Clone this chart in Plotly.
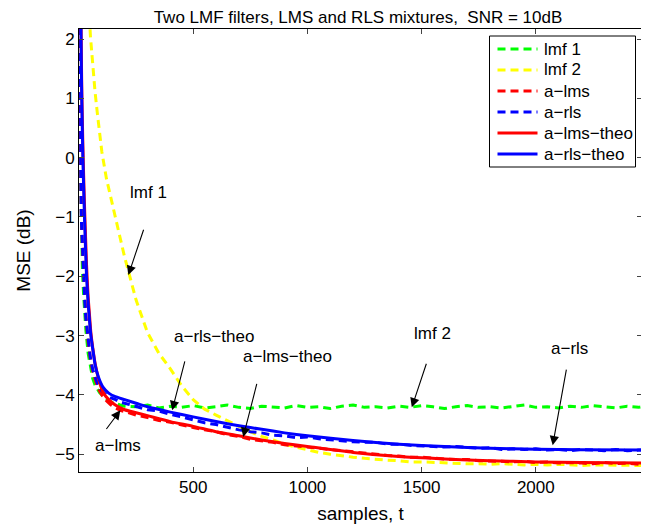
import plotly.graph_objects as go

# ---------------- data ----------------
t_sim = [1, 3, 5, 8, 10, 15, 20, 25, 30, 40, 50, 60, 70, 80, 90, 100, 120, 140, 160, 180] \
    + list(range(200, 2451, 50)) + [2465]

lmf1 = [9, 3.5, 1.2, -0.5, -1.2, -1.9, -2.3, -2.65, -2.9, -3.3, -3.55, -3.72, -3.83, -3.9, -3.96, -4.0,
        -4.07, -4.12, -4.15, -4.17,
        -4.19, -4.2, -4.17, -4.22, -4.19, -4.21, -4.18, -4.22, -4.2, -4.17,
        -4.21, -4.23, -4.19, -4.2, -4.22, -4.18, -4.21, -4.2, -4.23, -4.19,
        -4.17, -4.21, -4.2, -4.22, -4.19, -4.21, -4.18, -4.2, -4.23, -4.2,
        -4.18, -4.21, -4.2, -4.22, -4.19, -4.17, -4.21, -4.2, -4.22, -4.19,
        -4.21, -4.18, -4.2, -4.22, -4.19, -4.21, -4.2]

lmf2 = [14, 12.5, 11.5, 10.3, 9.5, 7.8, 6.4, 5.3, 4.4, 2.8, 2.05, 1.55, 1.12, 0.76, 0.42, 0.1,
        -0.35, -0.7, -1.02, -1.35,
        -1.68, -2.4, -2.95, -3.3, -3.56, -3.85, -4.08, -4.24, -4.34, -4.44,
        -4.53, -4.62, -4.7, -4.76, -4.83, -4.88, -4.93, -4.97, -5.0, -5.03,
        -5.05, -5.07, -5.09, -5.1, -5.11, -5.13, -5.13, -5.14, -5.15, -5.15,
        -5.16, -5.16, -5.17, -5.16, -5.17, -5.18, -5.17, -5.18, -5.17, -5.18,
        -5.19, -5.18, -5.18, -5.19, -5.18, -5.19, -5.19]

a_lms = [9, 4, 1.6, -0.2, -0.9, -1.5, -1.95, -2.35, -2.65, -3.1, -3.4, -3.6, -3.75, -3.85, -3.93, -4.0,
         -4.1, -4.17, -4.22, -4.26,
         -4.28, -4.34, -4.38, -4.43, -4.46, -4.51, -4.55, -4.59, -4.62, -4.67,
         -4.7, -4.75, -4.77, -4.8, -4.84, -4.86, -4.88, -4.91, -4.93, -4.94,
         -4.97, -4.98, -5.0, -5.02, -5.03, -5.05, -5.05, -5.07, -5.08, -5.09,
         -5.09, -5.11, -5.11, -5.12, -5.13, -5.12, -5.14, -5.13, -5.15, -5.14,
         -5.15, -5.16, -5.14, -5.16, -5.15, -5.17, -5.16]

a_rls = [9, 4, 1.5, -0.3, -1.0, -1.6, -2.0, -2.4, -2.7, -3.1, -3.38, -3.57, -3.7, -3.8, -3.87, -3.93,
         -4.0, -4.05, -4.08, -4.12,
         -4.14, -4.2, -4.25, -4.27, -4.33, -4.37, -4.42, -4.47, -4.5, -4.55,
         -4.59, -4.62, -4.64, -4.68, -4.69, -4.72, -4.71, -4.74, -4.76, -4.77,
         -4.79, -4.8, -4.8, -4.83, -4.83, -4.85, -4.86, -4.86, -4.88, -4.87,
         -4.89, -4.9, -4.89, -4.92, -4.91, -4.92, -4.91, -4.93, -4.92, -4.94,
         -4.92, -4.93, -4.94, -4.92, -4.94, -4.93, -4.93]

t_theo = [1, 5, 9, 12, 17, 24, 33, 40, 45, 52, 60, 71, 85, 105, 130, 159, 200, 250, 300, 400,
          500, 600, 700, 800, 900, 1000, 1200, 1400, 1600, 1800, 2000, 2200, 2465]

a_lms_theo = [12, 4.2, 2.2, 1.2, 0.2, -0.8, -1.8, -2.35, -2.6, -2.95, -3.2, -3.48, -3.72, -3.95,
              -4.08, -4.17, -4.25, -4.3, -4.35, -4.45, -4.53, -4.62, -4.69, -4.76, -4.82, -4.87,
              -4.97, -5.04, -5.08, -5.11, -5.13, -5.14, -5.15]

a_rls_theo = [12, 4.0, 2.0, 1.0, 0.0, -1.0, -2.0, -2.45, -2.7, -3.0, -3.22, -3.5, -3.7, -3.87,
              -3.97, -4.03, -4.08, -4.14, -4.2, -4.29, -4.37, -4.45, -4.52, -4.58, -4.64, -4.69,
              -4.77, -4.83, -4.87, -4.9, -4.915, -4.925, -4.93]

series_names = ["lmf 1", "lmf 2", "a\u2212lms", "a\u2212rls", "a\u2212lms\u2212theo", "a\u2212rls\u2212theo"]
series_colors = ["#00ff00", "#ffff00", "#ff0000", "#0000ff", "#ff0000", "#0000ff"]
series_dashed = [True, True, True, True, False, False]

x_ticks = [500, 1000, 1500, 2000]
y_ticks = [-5, -4, -3, -2, -1, 0, 1, 2]

# annotation labels: (text, text_x, text_y, tail_x, tail_y, tip_x, tip_y)
labels = [
    ("lmf 1", 303, -0.58, 285, -1.19, 216, -1.98),
    ("a\u2212rls\u2212theo", 592, -3.01, 465, -3.41, 408, -4.26),
    ("a\u2212lms\u2212theo", 911, -3.36, 780, -3.79, 719, -4.71),
    ("a\u2212lms", 172, -4.85, 115, -4.60, 181, -4.26),
    ("lmf 2", 1549, -2.96, 1523, -3.45, 1457, -4.21),
    ("a\u2212rls", 2148, -3.21, 2135, -3.55, 2074, -4.85),
]

# ---------------- figure ----------------
FONT = "Liberation Sans, Arial, Helvetica, sans-serif"
DASH = "8px,5px"
fig = go.Figure()

sim_series = [lmf1, lmf2, a_lms, a_rls]
for name, col, ys in zip(series_names[:4], series_colors[:4], sim_series):
    fig.add_trace(go.Scatter(x=t_sim, y=ys, mode="lines", name=name, showlegend=False,
                             line=dict(color=col, width=3, dash=DASH)))

for name, col, ys in zip(series_names[4:], series_colors[4:], [a_lms_theo, a_rls_theo]):
    fig.add_trace(go.Scatter(x=t_theo, y=ys, mode="lines", name=name, showlegend=False,
                             line=dict(color=col, width=3, shape="spline", smoothing=0.6)))

for txt, tx, ty, ax, ay, px, py in labels:
    fig.add_annotation(x=tx, y=ty, xref="x", yref="y", text=txt, showarrow=False,
                       font=dict(size=17, color="black", family=FONT))
    fig.add_annotation(x=px, y=py, ax=ax, ay=ay, xref="x", yref="y", axref="x", ayref="y",
                       text="", showarrow=True, arrowhead=2, arrowsize=1.7, arrowwidth=1.1,
                       arrowcolor="black", standoff=0, startstandoff=0)

# ---- MATLAB-style legend box (drawn in plot-area paper coordinates) ----
PW, PH = 563.0, 443.0          # plot area size in px
def px_x(p):                   # px offset from plot left -> paper x
    return p / PW
def px_y(p):                   # px offset from plot top -> paper y
    return 1 - p / PH

box_l, box_r, box_t, box_b = 410.5, 556.5, 7, 138
fig.add_shape(type="rect", xref="paper", yref="paper",
              x0=px_x(box_l), x1=px_x(box_r), y0=px_y(box_b), y1=px_y(box_t),
              line=dict(color="black", width=1), fillcolor="white", layer="above")
row0, row_gap = 20, 21.0
for i, (name, col, dashed) in enumerate(zip(series_names, series_colors, series_dashed)):
    yy = px_y(row0 + i * row_gap)
    fig.add_shape(type="line", xref="paper", yref="paper",
                  x0=px_x(418.5), x1=px_x(458.5), y0=yy, y1=yy, layer="above",
                  line=dict(color=col, width=3, dash=DASH if dashed else "solid"))
    fig.add_annotation(x=px_x(463), y=yy, xref="paper", yref="paper", text=name,
                       showarrow=False, xanchor="left", yanchor="middle",
                       font=dict(size=17, color="black", family=FONT))

# figure is offset by the page's 8px body margin, so size/margins compensate
fig.update_layout(
    width=641, height=524,
    margin=dict(l=71, r=7, t=21, b=60),
    paper_bgcolor="white", plot_bgcolor="white",
    font=dict(family=FONT, size=16, color="black"),
    title=dict(text="Two LMF filters, LMS and RLS mixtures,  SNR = 10dB",
               x=0.546, xanchor="center", y=0.994, yanchor="top", pad=dict(t=0, b=0),
               font=dict(size=17, color="black")),
    showlegend=False,
    xaxis=dict(range=[0, 2465], tickvals=x_ticks, ticks="inside", ticklen=5,
               showline=True, linecolor="black", linewidth=1, mirror="allticks",
               showgrid=False, zeroline=False, tickfont=dict(size=17),
               title=dict(text="samples, t", font=dict(size=19), standoff=10)),
    yaxis=dict(range=[-5.3, 2.17], tickvals=y_ticks, ticks="inside", ticklen=5,
               showline=True, linecolor="black", linewidth=1, mirror="allticks",
               showgrid=False, zeroline=False, tickfont=dict(size=17),
               title=dict(text="MSE (dB)", font=dict(size=19), standoff=19)),
)

fig.write_html("out.html")
